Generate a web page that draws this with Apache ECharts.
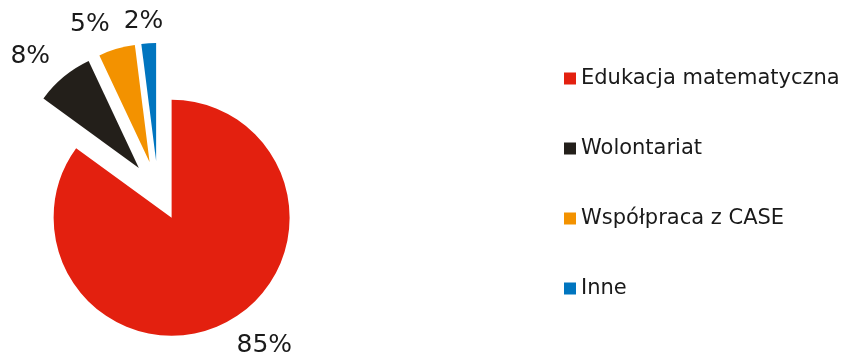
<!DOCTYPE html>
<html>
<head>
<meta charset="utf-8">
<script src="https://cdn.jsdelivr.net/npm/echarts@6/dist/echarts.min.js"></script>
<style>
  html, body { margin: 0; padding: 0; background: #fff; }
  #chart { width: 844px; height: 356px; }
</style>
</head>
<body>
<div id="chart"></div>
<script>
// Shares of activities (percent)
const categories = ['Edukacja matematyczna', 'Wolontariat', 'Współpraca z CASE', 'Inne'];
const values = [85, 8, 5, 2];
const colors = ['#E3200F', '#231F1A', '#F39200', '#0075BF'];

// Per-slice label placement tweaks (label line itself is hidden)
const labelLen = [25, 26, 25, 22];
const labelLen2 = [0, -3, 0, -16];

const chart = echarts.init(document.getElementById('chart'), null, { renderer: 'canvas' });

const data = categories.map((name, i) => ({
  name,
  value: values[i],
  selected: true,
  itemStyle: { color: colors[i] },
  labelLine: { length: labelLen[i], length2: labelLen2[i] }
}));

chart.setOption({
  animation: false,
  legend: {
    orient: 'vertical',
    left: 559,
    top: 63,
    itemWidth: 12,
    itemHeight: 12,
    itemGap: 49,
    icon: 'rect',
    selectedMode: false,
    textStyle: {
      fontFamily: 'DejaVu Sans',
      fontSize: 21,
      color: '#1a1a1a'
    },
    data: categories
  },
  series: [{
    type: 'pie',
    center: [158, 191],
    radius: [0, 118],
    startAngle: 90,
    clockwise: true,
    selectedMode: 'multiple',
    selectedOffset: 30,
    avoidLabelOverlap: false,
    label: {
      show: true,
      position: 'outside',
      formatter: '{c}%',
      fontFamily: 'DejaVu Sans',
      fontSize: 25,
      color: '#1a1a1a',
      distanceToLabelLine: 0
    },
    labelLine: { show: false },
    emphasis: { disabled: true },
    select: { itemStyle: { borderWidth: 0 } },
    itemStyle: { borderWidth: 0 },
    data
  }]
});
</script>
</body>
</html>
